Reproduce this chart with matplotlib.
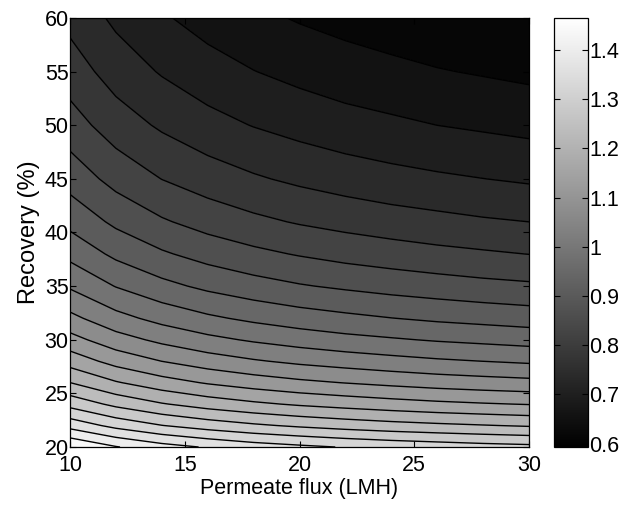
import numpy as np
import matplotlib
matplotlib.use("Agg")
import matplotlib.pyplot as plt
from matplotlib import cm, colors

plt.rcParams['font.family'] = ['Liberation Sans', 'DejaVu Sans']

# Permeate flux (LMH) grid (x) and recovery (%) grid (y)
flux = [10, 12, 14, 16, 18, 20, 22, 24, 26, 28, 30]
recovery = [20, 22, 24, 26, 28, 30, 32, 35, 38, 41, 45, 50, 55, 60]

# Values: one row per recovery, one column per flux
z_rows = [
    [1.465, 1.426, 1.398, 1.378, 1.361, 1.349, 1.338, 1.329, 1.322, 1.315, 1.310],  # 20
    [1.367, 1.328, 1.300, 1.280, 1.264, 1.251, 1.240, 1.231, 1.224, 1.218, 1.212],  # 22
    [1.285, 1.247, 1.219, 1.198, 1.182, 1.169, 1.159, 1.150, 1.142, 1.136, 1.131],  # 24
    [1.216, 1.178, 1.150, 1.129, 1.113, 1.100, 1.090, 1.081, 1.073, 1.067, 1.062],  # 26
    [1.157, 1.118, 1.091, 1.070, 1.054, 1.041, 1.031, 1.022, 1.014, 1.008, 1.002],  # 28
    [1.106, 1.067, 1.040, 1.019, 1.003, 0.990, 0.979, 0.971, 0.963, 0.957, 0.951],  # 30
    [1.061, 1.022, 0.995, 0.974, 0.958, 0.945, 0.935, 0.926, 0.918, 0.912, 0.906],  # 32
    [1.003, 0.965, 0.937, 0.916, 0.900, 0.887, 0.877, 0.868, 0.861, 0.854, 0.849],  # 35
    [0.955, 0.916, 0.889, 0.868, 0.852, 0.839, 0.828, 0.820, 0.812, 0.806, 0.800],  # 38
    [0.913, 0.875, 0.847, 0.826, 0.810, 0.797, 0.787, 0.778, 0.771, 0.764, 0.759],  # 41
    [0.867, 0.828, 0.800, 0.780, 0.764, 0.751, 0.740, 0.731, 0.724, 0.718, 0.712],  # 45
    [0.819, 0.780, 0.753, 0.732, 0.716, 0.703, 0.692, 0.684, 0.676, 0.670, 0.664],  # 50
    [0.780, 0.741, 0.714, 0.693, 0.677, 0.664, 0.653, 0.645, 0.637, 0.631, 0.625],  # 55
    [0.747, 0.709, 0.681, 0.660, 0.644, 0.631, 0.621, 0.612, 0.604, 0.598, 0.593],  # 60
]

x_ticks = [10, 15, 20, 25, 30]
y_ticks = [20, 25, 30, 35, 40, 45, 50, 55, 60]
cbar_ticks = [0.6, 0.7, 0.8, 0.9, 1.0, 1.1, 1.2, 1.3, 1.4]
cbar_labels = ['0.6', '0.7', '0.8', '0.9', '1', '1.1', '1.2', '1.3', '1.4']
n_levels = 20

Z = np.array(z_rows)
X, Y = np.meshgrid(flux, recovery)
zmin, zmax = Z.min(), Z.max()
levels = np.linspace(zmin, zmax, n_levels + 2)

fig = plt.figure(figsize=(6.23, 5.05), dpi=100)
ax = fig.add_axes([70 / 623, 58 / 505, 459 / 623, 429 / 505])
cax = fig.add_axes([554 / 623, 58 / 505, 34 / 623, 429 / 505])

norm = colors.Normalize(vmin=zmin, vmax=zmax)
ax.contourf(X, Y, Z, levels=levels, cmap='gray', norm=norm)
ax.contour(X, Y, Z, levels=levels[1:-1], colors='black', linewidths=1.0)

ax.set_xlim(10, 30)
ax.set_ylim(20, 60)
ax.set_xticks(x_ticks)
ax.set_yticks(y_ticks)
ax.tick_params(direction='in', top=True, right=True, length=4, width=0.8,
               labelsize=15.5)
ax.tick_params(axis='x', pad=6)
ax.tick_params(axis='y', pad=1)
ax.set_xlabel('Permeate flux (LMH)', fontsize=15.5, labelpad=1)
ax.set_ylabel('Recovery (%)', fontsize=17, labelpad=3)
for s in ax.spines.values():
    s.set_linewidth(0.9)

sm = cm.ScalarMappable(norm=norm, cmap='gray')
cb = fig.colorbar(sm, cax=cax)
cb.set_ticks(cbar_ticks)
cb.set_ticklabels(cbar_labels)
cax.tick_params(direction='in', left=True, right=True, length=4, width=0.8,
                labelsize=15.5, pad=1)
cb.outline.set_linewidth(0.9)

fig.savefig('out.png', dpi=100)
